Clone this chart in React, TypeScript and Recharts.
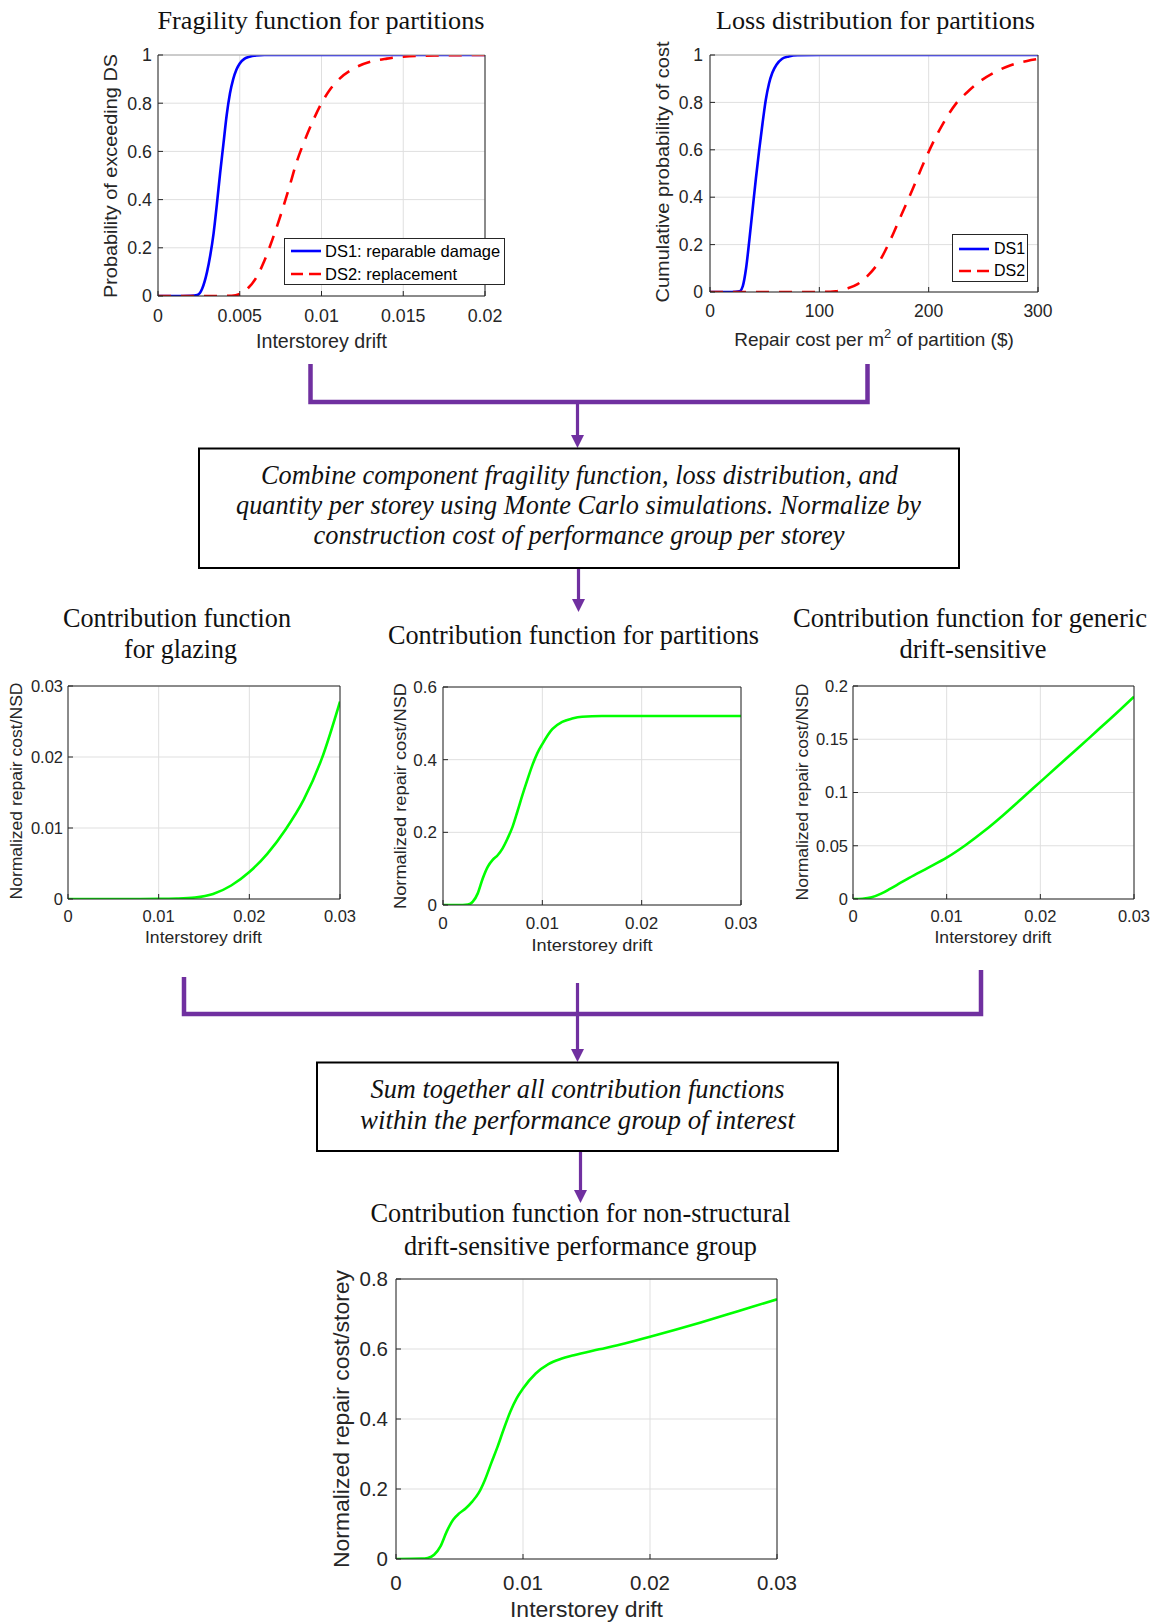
import React from 'react';
import { LineChart, Line, XAxis, YAxis, CartesianGrid, Legend } from 'recharts';

// values
const fragDriftDs1 = [0, 0.001, 0.002, 0.0024, 0.0027, 0.003, 0.0032, 0.0034, 0.0036, 0.0038, 0.004, 0.0042, 0.0044, 0.0046, 0.0048, 0.005, 0.0053, 0.0056, 0.006, 0.0065, 0.007, 0.01, 0.015, 0.02];
const fragProbDs1 = [0, 0, 0.001, 0.004, 0.03, 0.1, 0.17, 0.26, 0.38, 0.51, 0.63, 0.75, 0.84, 0.9, 0.94, 0.965, 0.985, 0.993, 0.998, 1, 1, 1, 1, 1];
const fragDriftDs2 = [0, 0.003, 0.0045, 0.005, 0.0055, 0.006, 0.0065, 0.007, 0.0075, 0.008, 0.0085, 0.009, 0.0095, 0.01, 0.0105, 0.011, 0.012, 0.013, 0.014, 0.015, 0.017, 0.02];
const fragProbDs2 = [0, 0, 0.001, 0.008, 0.032, 0.075, 0.145, 0.235, 0.335, 0.445, 0.56, 0.65, 0.73, 0.8, 0.855, 0.895, 0.945, 0.972, 0.985, 0.993, 0.998, 1];

const lossCostDs1 = [0, 20, 27, 30, 33, 36, 39, 42, 45, 48, 51, 54, 57, 61, 66, 72, 80, 100, 200, 300];
const lossProbDs1 = [0, 0, 0.003, 0.025, 0.1, 0.22, 0.35, 0.48, 0.6, 0.71, 0.81, 0.88, 0.925, 0.96, 0.984, 0.994, 0.999, 1, 1, 1];
const lossCostDs2 = [0, 100, 115, 125, 135, 145, 155, 165, 175, 185, 195, 205, 215, 225, 235, 245, 260, 275, 290, 300];
const lossProbDs2 = [0, 0, 0.003, 0.014, 0.033, 0.072, 0.13, 0.22, 0.325, 0.43, 0.54, 0.64, 0.725, 0.795, 0.842, 0.882, 0.926, 0.957, 0.975, 0.983];

const glazingDrift = [0, 0.005, 0.01, 0.012, 0.014, 0.016, 0.018, 0.02, 0.022, 0.024, 0.026, 0.028, 0.03];
const glazingCost = [0, 0, 0.00002, 0.00006, 0.0002, 0.0007, 0.0019, 0.0038, 0.0064, 0.0098, 0.014, 0.0198, 0.0278];

const partitionDrift = [0, 0.002, 0.0025, 0.003, 0.0035, 0.004, 0.0045, 0.005, 0.0055, 0.006, 0.0065, 0.007, 0.0075, 0.008, 0.0085, 0.009, 0.0095, 0.01, 0.011, 0.012, 0.013, 0.014, 0.016, 0.02, 0.025, 0.03];
const partitionCost = [0, 0, 0.001, 0.009, 0.032, 0.073, 0.105, 0.124, 0.137, 0.156, 0.183, 0.215, 0.258, 0.303, 0.345, 0.385, 0.418, 0.443, 0.484, 0.504, 0.513, 0.518, 0.52, 0.52, 0.52, 0.52];

const genericDrift = [0, 0.001, 0.002, 0.003, 0.004, 0.005, 0.006, 0.008, 0.01, 0.012, 0.014, 0.016, 0.018, 0.02, 0.022, 0.024, 0.026, 0.028, 0.03];
const genericCost = [0, 0.0003, 0.0016, 0.005, 0.0098, 0.0148, 0.0198, 0.0292, 0.0388, 0.0505, 0.0638, 0.0785, 0.0942, 0.11, 0.1258, 0.1415, 0.1575, 0.1735, 0.19];

const groupDrift = [0, 0.002, 0.0025, 0.003, 0.0035, 0.004, 0.0045, 0.005, 0.0055, 0.006, 0.0065, 0.007, 0.0075, 0.008, 0.0085, 0.009, 0.0095, 0.01, 0.011, 0.012, 0.013, 0.014, 0.016, 0.018, 0.02, 0.022, 0.024, 0.026, 0.028, 0.03];
const groupCost = [0, 0.001, 0.003, 0.012, 0.036, 0.079, 0.112, 0.131, 0.145, 0.164, 0.188, 0.226, 0.274, 0.321, 0.373, 0.421, 0.459, 0.487, 0.53, 0.557, 0.572, 0.582, 0.599, 0.616, 0.635, 0.655, 0.676, 0.698, 0.72, 0.742];

const fragXTicks = [0, 0.005, 0.01, 0.015, 0.02];
const probTicks = [0, 0.2, 0.4, 0.6, 0.8, 1];
const lossXTicks = [0, 100, 200, 300];
const driftTicks = [0, 0.01, 0.02, 0.03];
const glazingTicks = [0, 0.01, 0.02, 0.03];
const partitionTicks = [0, 0.2, 0.4, 0.6];
const genericTicks = [0, 0.05, 0.1, 0.15, 0.2];
const groupTicks = [0, 0.2, 0.4, 0.6, 0.8];

const AXIS = '#262626';
const GRID = '#dfdfdf';
const PURPLE = '#7030a0';
const GREEN = '#00ff00';
const SANS = '"Liberation Sans", Arial, sans-serif';
const SERIF = '"Liberation Serif", "Times New Roman", serif';

const PAD_L = 70;
const PAD_T = 14;
const PAD_R = 26;
const PAD_B = 40;
const TICK = 5;

type Series = { name: string; xs: number[]; ys: number[]; color: string; dash?: string; legendDash?: string };
type Box = { x: number; y: number; w: number; h: number };
type LegendSpec = { x: number; y: number; w: number; h: number; rows: number[]; lineFrom: number; lineTo: number; textAt: number; fontSize: number };

const fmt = (v: number) => String(v);
const toPoints = (xs: number[], ys: number[]) => xs.map((x, i) => ({ x, y: ys[i] }));

const LegendBox = ({ spec, series }: { spec: LegendSpec; series: Series[] }) => (
  <div
    style={{
      position: 'relative',
      width: spec.w,
      height: spec.h,
      boxSizing: 'border-box',
      border: `1px solid ${AXIS}`,
      background: '#fff',
      fontFamily: SANS,
      fontSize: spec.fontSize,
      color: '#000',
    }}
  >
    {series.map((s, i) => (
      <div key={s.name} style={{ position: 'absolute', left: 0, top: spec.rows[i] - 12, height: 24, width: '100%' }}>
        <svg width={spec.w} height={24} style={{ position: 'absolute', left: 0, top: 0 }}>
          <line x1={spec.lineFrom} x2={spec.lineTo} y1={12} y2={12} stroke={s.color} strokeWidth={2.6} strokeDasharray={s.legendDash} />
        </svg>
        <span style={{ position: 'absolute', left: spec.textAt, top: 0, lineHeight: '24px', whiteSpace: 'nowrap' }}>{s.name}</span>
      </div>
    ))}
  </div>
);

interface PlotProps {
  box: Box;
  xDomain: [number, number];
  xTicks: number[];
  yDomain: [number, number];
  yTicks: number[];
  fontSize: number;
  xGap: number;
  yGap: number;
  series: Series[];
  legend?: LegendSpec;
  topStroke?: string;
}

const Plot: React.FC<PlotProps> = ({ box, xDomain, xTicks, yDomain, yTicks, fontSize, xGap, yGap, series, legend, topStroke }) => {
  const originX = box.x - PAD_L;
  const originY = box.y - PAD_T - 1;
  const tickStyle = { fill: AXIS, fontSize, fontFamily: SANS };
  return (
    <div style={{ position: 'absolute', left: originX, top: originY }}>
      <LineChart
        width={PAD_L + box.w + 1 + PAD_R}
        height={PAD_T + 1 + box.h + PAD_B}
        margin={{ top: PAD_T, right: PAD_R, bottom: 0, left: 0 }}
      >
        <CartesianGrid stroke={GRID} />
        <XAxis
          dataKey="x"
          type="number"
          domain={xDomain}
          ticks={xTicks}
          interval={0}
          allowDataOverflow
          height={PAD_B}
          stroke={AXIS}
          tickSize={-TICK}
          tickMargin={xGap + TICK}
          tick={tickStyle}
          tickFormatter={fmt}
        />
        <XAxis
          xAxisId="top"
          orientation="top"
          type="number"
          domain={xDomain}
          ticks={xTicks}
          interval={0}
          allowDataOverflow
          height={1}
          stroke={topStroke || AXIS}
          tickSize={-TICK}
          tick={false}
        />
        <YAxis
          type="number"
          domain={yDomain}
          ticks={yTicks}
          interval={0}
          allowDataOverflow
          width={PAD_L}
          stroke={AXIS}
          tickSize={-TICK}
          tickMargin={yGap + TICK}
          tick={tickStyle}
          tickFormatter={fmt}
        />
        <YAxis
          yAxisId="right"
          orientation="right"
          type="number"
          domain={yDomain}
          ticks={yTicks}
          interval={0}
          allowDataOverflow
          width={1}
          stroke={AXIS}
          tickSize={-TICK}
          tick={false}
        />
        {series.map((s) => (
          <Line
            key={s.name}
            data={toPoints(s.xs, s.ys)}
            dataKey="y"
            name={s.name}
            type="monotone"
            stroke={s.color}
            strokeWidth={2.6}
            strokeDasharray={s.dash}
            dot={false}
            activeDot={false}
            isAnimationActive={false}
          />
        ))}
        {legend && (
          <Legend
            layout="vertical"
            align="center"
            verticalAlign="middle"
            wrapperStyle={{ left: legend.x - originX, top: legend.y - originY, width: legend.w, height: legend.h }}
            content={() => <LegendBox spec={legend} series={series} />}
          />
        )}
      </LineChart>
    </div>
  );
};

const fragilitySeries: Series[] = [
  { name: 'DS1: reparable damage', xs: fragDriftDs1, ys: fragProbDs1, color: '#0000ff' },
  { name: 'DS2: replacement', xs: fragDriftDs2, ys: fragProbDs2, color: '#ff0000', dash: '13 10', legendDash: '12 6' },
];
const lossSeries: Series[] = [
  { name: 'DS1', xs: lossCostDs1, ys: lossProbDs1, color: '#0000ff' },
  { name: 'DS2', xs: lossCostDs2, ys: lossProbDs2, color: '#ff0000', dash: '13 10', legendDash: '12 6' },
];

type TextSpec = { text: string; x: number; y: number; len: number; size: number };

const titles: TextSpec[] = [
  { text: 'Fragility function for partitions', x: 321, y: 28.5, len: 327, size: 25.5 },
  { text: 'Loss distribution for partitions', x: 875.5, y: 28.5, len: 319, size: 25.5 },
  { text: 'Contribution function', x: 177, y: 627, len: 228, size: 26.5 },
  { text: 'for glazing', x: 180.5, y: 657.5, len: 113, size: 26.5 },
  { text: 'Contribution function for partitions', x: 573.5, y: 644, len: 371, size: 26.5 },
  { text: 'Contribution function for generic', x: 970, y: 627, len: 354, size: 26.5 },
  { text: 'drift-sensitive', x: 973, y: 657.5, len: 147, size: 26.5 },
  { text: 'Contribution function for non-structural', x: 580.5, y: 1222, len: 420, size: 27 },
  { text: 'drift-sensitive performance group', x: 580.5, y: 1255, len: 353, size: 27 },
];

const boxTexts: TextSpec[] = [
  { text: 'Combine component fragility function, loss distribution, and', x: 579.5, y: 484, len: 637, size: 26.5 },
  { text: 'quantity per storey using Monte Carlo simulations. Normalize by', x: 578.5, y: 514, len: 685, size: 26.5 },
  { text: 'construction cost of performance group per storey', x: 579, y: 544, len: 531, size: 26.5 },
  { text: 'Sum together all contribution functions', x: 577.5, y: 1098, len: 414, size: 26.5 },
  { text: 'within the performance  group of interest', x: 577.5, y: 1129, len: 435, size: 26.5 },
];

const xLabels: TextSpec[] = [
  { text: 'Interstorey drift', x: 321.5, y: 348, len: 131, size: 19.5 },
  { text: 'Interstorey drift', x: 203.5, y: 943, len: 117, size: 16.5 },
  { text: 'Interstorey drift', x: 592, y: 951, len: 121, size: 17 },
  { text: 'Interstorey drift', x: 993, y: 943, len: 117, size: 16.5 },
  { text: 'Interstorey drift', x: 586.5, y: 1617, len: 153, size: 22 },
];

const yLabels: TextSpec[] = [
  { text: 'Probability of exceeding DS', x: 117, y: 176, len: 244, size: 19 },
  { text: 'Cumulative probability of cost', x: 668.5, y: 172, len: 261, size: 19 },
  { text: 'Normalized repair cost/NSD', x: 22, y: 791, len: 217, size: 16 },
  { text: 'Normalized repair cost/NSD', x: 406, y: 796, len: 226, size: 16.5 },
  { text: 'Normalized repair cost/NSD', x: 808, y: 792, len: 217, size: 16 },
  { text: 'Normalized repair cost/storey', x: 348.5, y: 1419, len: 298, size: 22 },
];

const Arrow = ({ x, y1, y2 }: { x: number; y1: number; y2: number }) => (
  <g>
    <line x1={x} x2={x} y1={y1} y2={y2 - 12} stroke={PURPLE} strokeWidth={3.2} />
    <polygon points={`${x - 6.5},${y2 - 13} ${x + 6.5},${y2 - 13} ${x},${y2}`} fill={PURPLE} />
  </g>
);

const Overlay = () => (
  <svg width={1155} height={1623} style={{ position: 'absolute', left: 0, top: 0, pointerEvents: 'none' }}>
    <path d="M310.5,364 V402 H867.5 V364" stroke={PURPLE} strokeWidth={4.5} fill="none" />
    <Arrow x={577.5} y1={402} y2={448} />
    <rect x={199} y={448.5} width={760} height={119.5} fill="#fff" stroke="#000" strokeWidth={2} />
    <Arrow x={578.5} y1={569} y2={612} />
    <path d="M184,977 V1014 H981 V970" stroke={PURPLE} strokeWidth={4.5} fill="none" />
    <Arrow x={577.5} y1={983} y2={1062} />
    <rect x={317} y={1062.5} width={521} height={88.5} fill="#fff" stroke="#000" strokeWidth={2} />
    <Arrow x={580.5} y1={1152} y2={1203} />

    {titles.map((t) => (
      <text key={t.text + t.y} x={t.x} y={t.y} fontFamily={SERIF} fontSize={t.size} fill="#111" textAnchor="middle" textLength={t.len} lengthAdjust="spacingAndGlyphs">
        {t.text}
      </text>
    ))}
    {boxTexts.map((t) => (
      <text key={t.text} x={t.x} y={t.y} fontFamily={SERIF} fontStyle="italic" fontSize={t.size} fill="#111" textAnchor="middle" textLength={t.len} lengthAdjust="spacingAndGlyphs">
        {t.text}
      </text>
    ))}
    {xLabels.map((t) => (
      <text key={'x' + t.x} x={t.x} y={t.y} fontFamily={SANS} fontSize={t.size} fill={AXIS} textAnchor="middle" textLength={t.len} lengthAdjust="spacingAndGlyphs">
        {t.text}
      </text>
    ))}
    <text x={874} y={346} fontFamily={SANS} fontSize={19} fill={AXIS} textAnchor="middle">
      Repair cost per m<tspan dy={-8} fontSize={13}>2</tspan>
      <tspan dy={8}> of partition ($)</tspan>
    </text>
    {yLabels.map((t) => (
      <text key={'y' + t.x} transform={`translate(${t.x},${t.y}) rotate(-90)`} fontFamily={SANS} fontSize={t.size} fill={AXIS} textAnchor="middle" textLength={t.len} lengthAdjust="spacingAndGlyphs">
        {t.text}
      </text>
    ))}
  </svg>
);

const App: React.FC = () => (
  <div style={{ position: 'absolute', left: 0, top: 0, width: 1155, height: 1623, background: '#fff', overflow: 'hidden' }}>
    <Plot
      box={{ x: 158, y: 55, w: 327, h: 241 }}
      xDomain={[0, 0.02]}
      xTicks={fragXTicks}
      yDomain={[0, 1]}
      yTicks={probTicks}
      fontSize={17.8}
      xGap={13}
      yGap={6}
      series={fragilitySeries}
      topStroke="#a8a8a8"
      legend={{ x: 284, y: 238, w: 221, h: 47, rows: [12, 35], lineFrom: 6, lineTo: 36, textAt: 40, fontSize: 16.5 }}
    />
    <Plot
      box={{ x: 710, y: 55, w: 328, h: 237 }}
      xDomain={[0, 300]}
      xTicks={lossXTicks}
      yDomain={[0, 1]}
      yTicks={probTicks}
      fontSize={17.5}
      xGap={13}
      yGap={7}
      series={lossSeries}
      topStroke="#a8a8a8"
      legend={{ x: 952, y: 234, w: 76, h: 48, rows: [14, 36], lineFrom: 6, lineTo: 36, textAt: 41, fontSize: 16 }}
    />
    <Plot
      box={{ x: 68, y: 686, w: 272, h: 213 }}
      xDomain={[0, 0.03]}
      xTicks={driftTicks}
      yDomain={[0, 0.03]}
      yTicks={glazingTicks}
      fontSize={16.5}
      xGap={11}
      yGap={5}
      series={[{ name: 'glazing', xs: glazingDrift, ys: glazingCost, color: GREEN }]}
    />
    <Plot
      box={{ x: 443, y: 687, w: 298, h: 218 }}
      xDomain={[0, 0.03]}
      xTicks={driftTicks}
      yDomain={[0, 0.6]}
      yTicks={partitionTicks}
      fontSize={17}
      xGap={12}
      yGap={6}
      series={[{ name: 'partitions', xs: partitionDrift, ys: partitionCost, color: GREEN }]}
    />
    <Plot
      box={{ x: 853, y: 686, w: 281, h: 213 }}
      xDomain={[0, 0.03]}
      xTicks={driftTicks}
      yDomain={[0, 0.2]}
      yTicks={genericTicks}
      fontSize={16.5}
      xGap={11}
      yGap={5}
      series={[{ name: 'generic', xs: genericDrift, ys: genericCost, color: GREEN }]}
    />
    <Plot
      box={{ x: 396, y: 1279, w: 381, h: 280 }}
      xDomain={[0, 0.03]}
      xTicks={driftTicks}
      yDomain={[0, 0.8]}
      yTicks={groupTicks}
      fontSize={20.5}
      xGap={16}
      yGap={8}
      series={[{ name: 'group', xs: groupDrift, ys: groupCost, color: GREEN }]}
    />
    <Overlay />
  </div>
);

export default App;
